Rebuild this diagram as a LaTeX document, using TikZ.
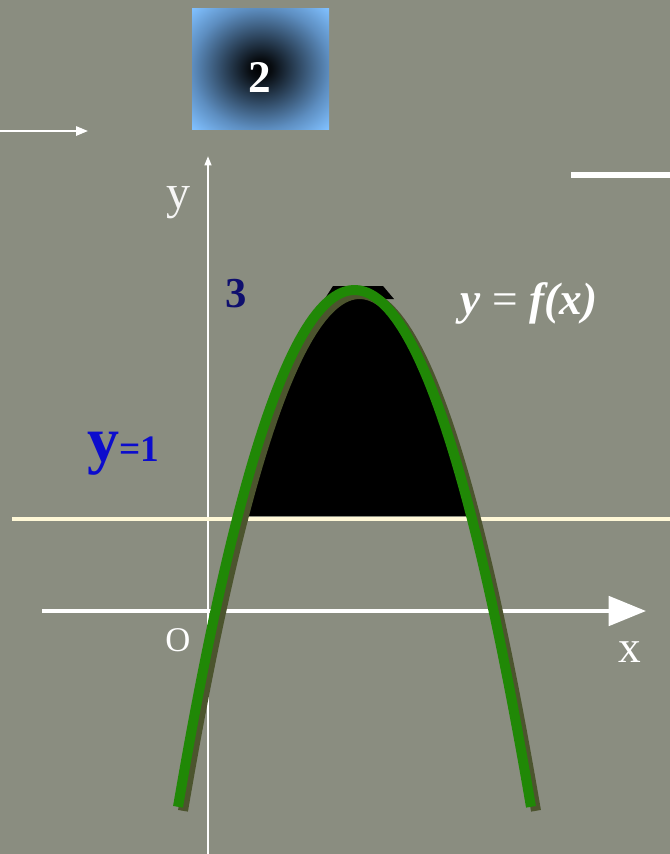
\documentclass[tikz,border=0pt]{standalone}
\usepackage{fontspec}
\newfontfamily\serifb[]{Liberation Serif}
\usetikzlibrary{arrows.meta}
\definecolor{bg}{RGB}{138,141,128}
\definecolor{lightblue}{RGB}{128,192,255}
\definecolor{midblue}{RGB}{78,120,165}
\definecolor{curvegreen}{RGB}{32,136,6}
\definecolor{shadowolive}{RGB}{76,84,46}
\definecolor{navy}{RGB}{15,15,110}
\definecolor{yblue}{RGB}{12,12,205}
\definecolor{cream}{RGB}{255,248,215}
\pgfdeclareradialshading{boxshade}{\pgfpoint{0bp}{0bp}}{color(0bp)=(black); color(4bp)=(black!90!midblue); color(25bp)=(midblue!70!lightblue); color(35bp)=(lightblue); color(50bp)=(lightblue)}
\tikzset{
  whitetext/.style={text=white, inner sep=0pt},
  axisthin/.style={draw=white, line width=1.5pt},
  axisthick/.style={draw=white, line width=3pt},
  curve/.style={line width=7.5pt, draw=curvegreen},
  curveshadow/.style={line width=7.5pt, draw=shadowolive},
}
\begin{document}
\begin{tikzpicture}[x=0.75pt, y=-0.75pt]
\fill[bg] (0,0) rectangle (670,854);
\useasboundingbox (0,0) rectangle (670,854);

% shaded box with number 2
\node (box) [rectangle, minimum width=102.75pt, minimum height=90.75pt, inner sep=0pt, shading=boxshade] at (260.5,68.5) {};
\node (two) [whitetext, font=\serifb\bfseries\fontsize{34}{34}\selectfont] at (260,77) {2};

% small arrow at left
\coordinate (la0) at (0,131);
\coordinate (la1) at (88,131);
\draw[axisthin, -{Triangle[length=9pt,width=7pt]}] (la0) -- (la1);

% line top right
\coordinate (tr0) at (571,175);
\coordinate (tr1) at (670,175);
\draw[draw=white, line width=4pt] (tr0) -- (tr1);

% black region
\fill[black] (324,300) -- (333,286) -- (383,286) -- (394,299) -- cycle;
\fill[black] plot[domain=239:470, samples=80] ({\x}, {290+(0.1288*(\x-354.5))^2}) -- cycle;
\fill[black] (239,516) rectangle (470,505);

% y axis
\coordinate (yb) at (208,854);
\coordinate (yt) at (208,156);
\draw[axisthin, -{Triangle[length=7pt,width=5pt]}] (yb) -- (yt);

% x axis
\coordinate (xl) at (42,611);
\coordinate (xr) at (646,611);
\draw[axisthick, -{Triangle[length=28pt,width=22pt]}] (xl) -- (xr);

% line y = 1
\coordinate (h0) at (12,519);
\coordinate (h1) at (670,519);
\draw[draw=cream, line width=3.5pt] (h0) -- (h1);

% parabola with shadow
\draw[curveshadow] plot[domain=178:531, samples=100] ({\x+5}, {294+(0.1288*(\x-354.5))^2});
\draw[curve] plot[domain=178:531, samples=100] ({\x}, {290+(0.1288*(\x-354.5))^2});

% labels
\node (ylab) [whitetext, text=white!92!bg, font=\serifb\fontsize{36}{36}\selectfont] at (178,203) {y};
\node (olab) [whitetext, font=\serifb\fontsize{26}{26}\selectfont] at (178,640) {O};
\node (xlab) [whitetext, font=\serifb\fontsize{34}{34}\selectfont] at (630,652) {x};
\node (three) [inner sep=0pt, text=navy, font=\serifb\bfseries\fontsize{32}{32}\selectfont] at (236,294) {3};
\node (func) [whitetext, font=\serifb\fontsize{34}{34}\selectfont] at (529,303) {\textbf{\textit{y}} = \textbf{\textit{f(x)}}};
\node (yeq) [inner sep=0pt, text=yblue, font=\serifb\bfseries, anchor=base west] at (87,461) {{\fontsize{48}{48}\selectfont y}{\fontsize{28}{28}\selectfont =1}};
\end{tikzpicture}
\end{document}
